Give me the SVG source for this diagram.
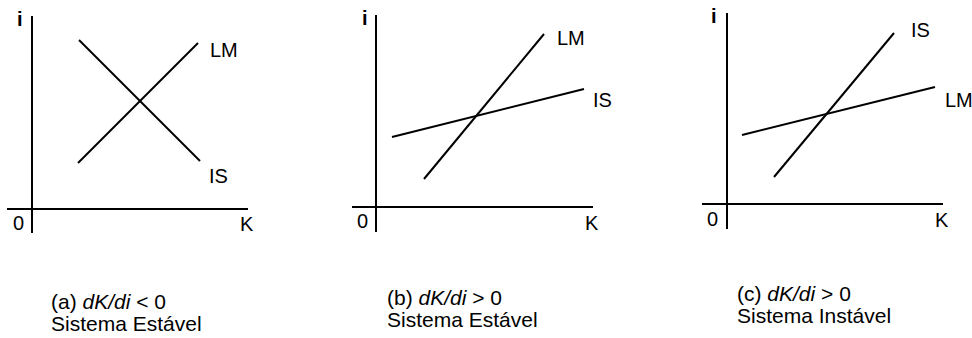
<svg xmlns="http://www.w3.org/2000/svg" width="972" height="338" viewBox="0 0 972 338">
<style>
.ax{stroke:#000;stroke-width:2;fill:none}
.cv{stroke:#000;stroke-width:2;fill:none}
.lb{font-family:"Liberation Sans",Arial,sans-serif;font-size:20px;fill:#000}
.iy{font-family:"Liberation Sans",Arial,sans-serif;font-size:20px;font-weight:bold;fill:#000}
.cap{font-family:"Liberation Sans",Arial,sans-serif;font-size:21px;fill:#000}
.it{font-style:italic}
</style>
<rect width="972" height="338" fill="#fff"/>
<g id="panel-a">
  <g id="axes-a">
    <line class="ax" x1="32" y1="16" x2="32" y2="233"/>
    <line class="ax" x1="7" y1="209" x2="248" y2="209"/>
    <text class="iy" x="17" y="26">i</text>
    <text class="lb" x="13" y="230">0</text>
    <text class="lb" x="240" y="231">K</text>
  </g>
  <g id="curves-a">
    <line class="cv" x1="78" y1="163" x2="198" y2="43"/>
    <line class="cv" x1="79" y1="40" x2="200" y2="161"/>
    <text class="lb" x="210" y="57">LM</text>
    <text class="lb" x="209" y="183">IS</text>
  </g>
  <g id="caption-a">
    <text class="cap" x="51" y="309">(a) <tspan class="it">dK/di</tspan> &lt; 0</text>
    <text class="cap" x="51" y="331">Sistema Estável</text>
  </g>
</g>
<g id="panel-b">
  <g id="axes-b">
    <line class="ax" x1="376" y1="15" x2="376" y2="232"/>
    <line class="ax" x1="352" y1="207" x2="593" y2="207"/>
    <text class="iy" x="362" y="25">i</text>
    <text class="lb" x="357" y="228">0</text>
    <text class="lb" x="585" y="230">K</text>
  </g>
  <g id="curves-b">
    <line class="cv" x1="424" y1="179" x2="544" y2="34"/>
    <line class="cv" x1="392" y1="137" x2="584" y2="89"/>
    <text class="lb" x="557" y="45">LM</text>
    <text class="lb" x="593" y="107">IS</text>
  </g>
  <g id="caption-b">
    <text class="cap" x="387" y="305">(b) <tspan class="it">dK/di</tspan> &gt; 0</text>
    <text class="cap" x="387" y="327">Sistema Estável</text>
  </g>
</g>
<g id="panel-c">
  <g id="axes-c">
    <line class="ax" x1="727" y1="13" x2="727" y2="229"/>
    <line class="ax" x1="702" y1="204" x2="943" y2="204"/>
    <text class="iy" x="711" y="23">i</text>
    <text class="lb" x="707" y="226">0</text>
    <text class="lb" x="935" y="227">K</text>
  </g>
  <g id="curves-c">
    <line class="cv" x1="774" y1="177" x2="894" y2="33"/>
    <line class="cv" x1="742" y1="135" x2="935" y2="87"/>
    <text class="lb" x="911" y="37">IS</text>
    <text class="lb" x="945" y="107">LM</text>
  </g>
  <g id="caption-c">
    <text class="cap" x="737" y="301">(c) <tspan class="it">dK/di</tspan> &gt; 0</text>
    <text class="cap" x="737" y="323">Sistema Instável</text>
  </g>
</g>
</svg>
